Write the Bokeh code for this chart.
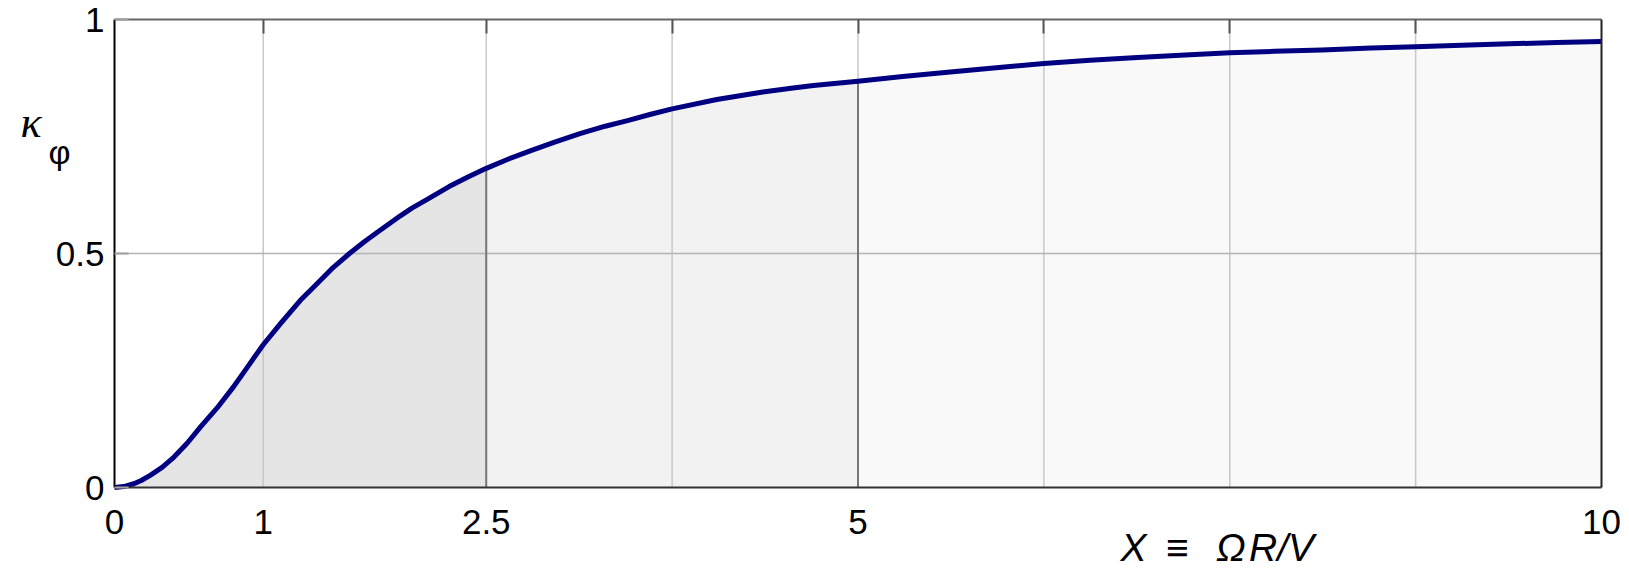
import numpy as np
from bokeh.plotting import figure
from bokeh.models import Range1d, LinearAxis, FixedTicker, Label
from bokeh.embed import file_html
from bokeh.resources import INLINE

# ---- data ----
X_VALUES = [0, 0.063, 0.13, 0.18, 0.24, 0.32, 0.40, 0.49, 0.58, 0.69, 0.80, 0.90, 1.0,
            1.116, 1.25, 1.36, 1.47, 1.58, 1.68, 1.77, 1.92, 2.0, 2.10, 2.25, 2.38, 2.5,
            2.65, 2.80, 2.96, 3.13, 3.30, 3.45, 3.60, 3.75, 4.05, 4.36, 4.55, 4.70, 5.0,
            5.30, 5.62, 5.93, 6.25, 6.56, 6.88, 7.2, 7.5, 7.8, 8.12, 8.45, 8.75, 9.06,
            9.38, 9.7, 10]
KAPPA = [0, 0.002, 0.008, 0.015, 0.026, 0.043, 0.065, 0.095, 0.13, 0.17, 0.215, 0.26, 0.305,
         0.35, 0.40, 0.435, 0.47, 0.50, 0.525, 0.546, 0.58, 0.597, 0.615, 0.643, 0.664, 0.682,
         0.702, 0.72, 0.738, 0.756, 0.772, 0.784, 0.797, 0.809, 0.829, 0.845, 0.853, 0.859, 0.868,
         0.878, 0.888, 0.897, 0.906, 0.913, 0.919, 0.924, 0.929, 0.932, 0.935, 0.939, 0.942, 0.945,
         0.948, 0.951, 0.953]
X_LIMITS = [0, 10]
Y_LIMITS = [0, 1]
REGION_BOUNDS = [0, 2.5, 5, 10]
REGION_COLORS = ["#e5e5e5", "#f2f2f2", "#f9f9f9"]
X_TICKS = [0, 1, 2.5, 5, 10]
Y_TICKS = [0, 0.5, 1]
X_GRID = [1, 2.5, 3.75, 5, 6.25, 7.5, 8.75]
Y_GRID = [0.5]
X_LABEL = "X\u2002\u2261\u2002\u2009\u03a9\u200aR/V"
Y_LABEL_MAIN = "\u03ba"
Y_LABEL_SUB = "\u03c6"

x = np.array(X_VALUES)
k = np.array(KAPPA)

# ---- layout (pixels) ----
W, H = 1629, 572
PLOT_L, PLOT_R, PLOT_T, PLOT_B = 114, 1601, 19, 487
sx = (PLOT_R - PLOT_L) / (X_LIMITS[1] - X_LIMITS[0])
sy = (PLOT_B - PLOT_T) / (Y_LIMITS[1] - Y_LIMITS[0])
x_range = Range1d(X_LIMITS[0] - PLOT_L / sx, X_LIMITS[1] + (W - PLOT_R) / sx)
y_range = Range1d(Y_LIMITS[0] - (H - PLOT_B) / sy, Y_LIMITS[1] + PLOT_T / sy)

p = figure(frame_width=W, frame_height=H,
           min_border=0, min_border_left=0, min_border_right=0,
           min_border_top=0, min_border_bottom=0,
           x_range=x_range, y_range=y_range,
           output_backend="svg", toolbar_location=None,
           x_axis_location=None, y_axis_location=None)
p.grid.visible = False
p.outline_line_color = None
p.background_fill_color = "white"
p.border_fill_color = "white"

# shaded regions
for (a, b), col in zip(zip(REGION_BOUNDS[:-1], REGION_BOUNDS[1:]), REGION_COLORS):
    m = (x >= a) & (x <= b)
    p.varea(x=x[m], y1=Y_LIMITS[0], y2=k[m], fill_color=col)

# gridlines
p.segment(x0=X_GRID, y0=[Y_LIMITS[0]] * len(X_GRID), x1=X_GRID, y1=[Y_LIMITS[1]] * len(X_GRID),
          line_color="#c8c8c8", line_width=1.5)
p.segment(x0=[X_LIMITS[0]] * len(Y_GRID), y0=Y_GRID, x1=[X_LIMITS[1]] * len(Y_GRID), y1=Y_GRID,
          line_color="#b4b4b4", line_width=1.5)

# darker region boundaries
inner = REGION_BOUNDS[1:-1]
k_inner = [k[np.argmin(np.abs(x - b))] for b in inner]
p.segment(x0=inner, y0=[Y_LIMITS[0]] * len(inner), x1=inner, y1=k_inner,
          line_color="#777777", line_width=2)

# curve
p.line(x, k, line_color="#000080", line_width=5, line_join="round")

FONT = "Liberation Sans"

# bottom axis
xb = LinearAxis(ticker=FixedTicker(ticks=X_TICKS), fixed_location=Y_LIMITS[0], bounds=tuple(X_LIMITS))
xb.major_tick_in = 0
xb.major_tick_out = 0
xb.minor_tick_in = 0
xb.minor_tick_out = 0
xb.axis_line_color = "#333333"
xb.axis_line_width = 2
xb.major_label_text_font = FONT
xb.major_label_text_font_size = "35px"
xb.major_label_text_color = "black"
xb.major_label_standoff = 22
p.add_layout(xb, "below")

# left axis
yl = LinearAxis(ticker=FixedTicker(ticks=Y_TICKS), fixed_location=X_LIMITS[0], bounds=tuple(Y_LIMITS))
yl.major_tick_in = 14
yl.major_tick_out = 0
yl.major_tick_line_color = "#a0a0a0"
yl.major_tick_line_width = 2
yl.minor_tick_in = 0
yl.minor_tick_out = 0
yl.axis_line_color = "black"
yl.axis_line_width = 2
yl.major_label_text_font = FONT
yl.major_label_text_font_size = "35px"
yl.major_label_text_color = "black"
yl.major_label_standoff = 10
p.add_layout(yl, "left")

# top axis (tick marks only, drawn as minor ticks so no labels exist)
xt = LinearAxis(ticker=FixedTicker(ticks=[], minor_ticks=X_GRID), fixed_location=Y_LIMITS[1],
                bounds=tuple(X_LIMITS))
xt.major_tick_in = 0
xt.major_tick_out = 0
xt.minor_tick_in = 14
xt.minor_tick_out = 0
xt.minor_tick_line_color = "#555555"
xt.minor_tick_line_width = 2
xt.axis_line_color = "#666666"
xt.axis_line_width = 2
p.add_layout(xt, "above")

# right axis (line only)
yr = LinearAxis(ticker=FixedTicker(ticks=[]), fixed_location=X_LIMITS[1], bounds=tuple(Y_LIMITS))
yr.major_tick_in = 0
yr.major_tick_out = 0
yr.minor_tick_in = 0
yr.minor_tick_out = 0
yr.axis_line_color = "#222222"
yr.axis_line_width = 2
p.add_layout(yr, "right")

# axis titles (screen units from the bottom-left of the canvas, vertically centred)
p.add_layout(Label(x=20, y=H - 122, x_units="screen", y_units="screen",
                   text=Y_LABEL_MAIN, text_font="Liberation Serif", text_font_style="italic",
                   text_font_size="44px", text_color="black", text_baseline="middle"))
p.add_layout(Label(x=48, y=H - 151, x_units="screen", y_units="screen",
                   text=Y_LABEL_SUB, text_font=FONT,
                   text_font_size="34px", text_color="black", text_baseline="middle"))
p.add_layout(Label(x=1120, y=H - 547, x_units="screen", y_units="screen",
                   text=X_LABEL, text_font=FONT, text_font_style="italic",
                   text_font_size="39px", text_color="black", text_baseline="middle"))

open("out.html", "w").write(file_html(p, INLINE))
